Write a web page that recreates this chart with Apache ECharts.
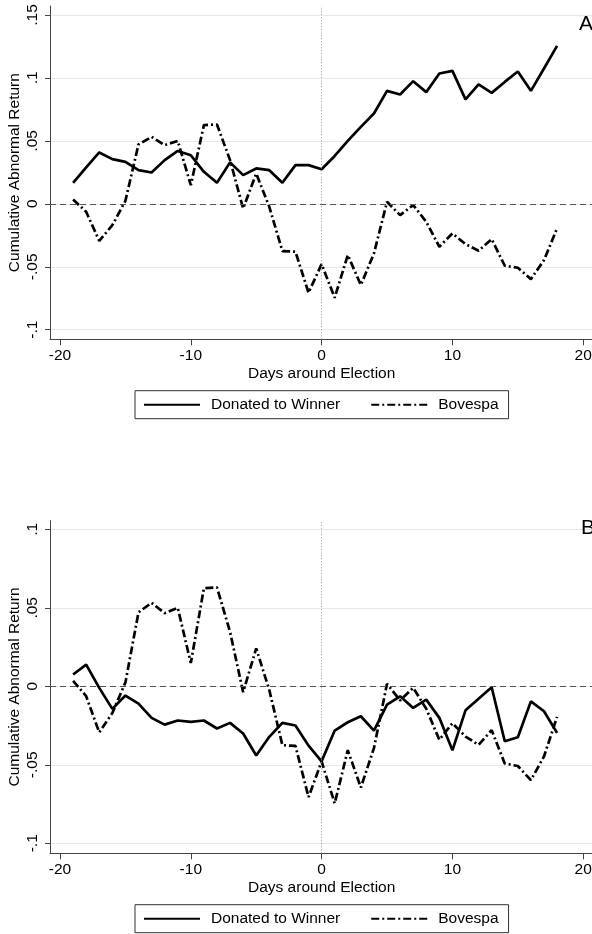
<!DOCTYPE html>
<html>
<head>
<meta charset="utf-8">
<script src="https://cdn.jsdelivr.net/npm/echarts@6/dist/echarts.min.js"></script>
<style>
html,body{margin:0;padding:0;background:#fff;}
#chart{width:592px;height:934px;}
</style>
</head>
<body>
<div id="chart"></div>
<script>
const days = [-19,-18,-17,-16,-15,-14,-13,-12,-11,-10,-9,-8,-7,-6,-5,-4,-3,-2,-1,0,1,2,3,4,5,6,7,8,9,10,11,12,13,14,15,16,17,18];
const donatedA = [0.0167,0.029,0.0408,0.0355,0.0333,0.0267,0.0249,0.0347,0.042,0.0386,0.0254,0.0167,0.0329,0.0228,0.0281,0.0267,0.0167,0.0307,0.0307,0.0275,0.038,0.05,0.0611,0.0717,0.0897,0.0868,0.0974,0.0887,0.1035,0.1056,0.0829,0.0948,0.0881,0.0968,0.1051,0.0897,0.1075,0.1254];
const bovespa = [0.0035,-0.0063,-0.0294,-0.017,0.0024,0.0471,0.0532,0.0466,0.05,0.0148,0.0625,0.063,0.0347,-0.0037,0.0241,-0.0024,-0.0375,-0.038,-0.0706,-0.0479,-0.0746,-0.0407,-0.0645,-0.0394,0.0016,-0.009,-0.001,-0.0143,-0.0341,-0.0235,-0.032,-0.0373,-0.028,-0.0492,-0.0508,-0.0598,-0.0447,-0.0195];
const donatedB = [0.0075,0.0138,-0.001,-0.0144,-0.0059,-0.011,-0.0201,-0.0244,-0.0218,-0.0227,-0.0218,-0.0269,-0.0233,-0.0301,-0.0441,-0.0322,-0.0233,-0.025,-0.0378,-0.0478,-0.0282,-0.0229,-0.0191,-0.0282,-0.0117,-0.0064,-0.0138,-0.0085,-0.0201,-0.0408,-0.0153,-0.008,-0.0006,-0.035,-0.0325,-0.0096,-0.0159,-0.0297];

const xTicks = [-20,-10,0,10,20];
const xTickLabels = ['-20','-10','0','10','20'];
const yTicksA = [-0.1,-0.05,0,0.05,0.1,0.15];
const yTickLabelsA = ['-.1','-.05','0','.05','.1','.15'];
const yTicksB = [-0.1,-0.05,0,0.05,0.1];
const yTickLabelsB = ['-.1','-.05','0','.05','.1'];

const seriesNames = ['Donated to Winner','Bovespa'];
const panelLabels = ['A','B'];
const xTitle = 'Days around Election';
const yTitle = 'Cumulative Abnormal Return';

const FONT = '"Liberation Sans", Arial, Helvetica, sans-serif';
const FS = 15.5;

function lookup(ticks, labels){
  return function(v){
    for (let i=0;i<ticks.length;i++){ if (Math.abs(v-ticks[i])<1e-9) return labels[i]; }
    return '';
  };
}
function pairs(vals){ return days.map((d,i)=>[d, vals[i]]); }

function xAxisCfg(gi){
  return {
    type:'value', gridIndex:gi, min:-20.765, max:20.77,
    name:xTitle, nameLocation:'middle', nameGap:26,
    nameTextStyle:{fontFamily:FONT,fontSize:FS,color:'#000'},
    axisLine:{show:true,onZero:false,lineStyle:{color:'#444',width:1}},
    axisTick:{show:true,inside:false,length:6,customValues:xTicks,lineStyle:{color:'#444'}},
    axisLabel:{show:true,margin:8,customValues:xTicks,formatter:lookup(xTicks,xTickLabels),fontFamily:FONT,fontSize:FS,color:'#000'},
    splitLine:{show:false}
  };
}
function yAxisCfg(gi,min,max,ticks,labels){
  return {
    type:'value', gridIndex:gi, min:min, max:max,
    name:yTitle, nameLocation:'middle', nameRotate:90, nameGap:27, nameMoveOverlap:false,
    nameTextStyle:{fontFamily:FONT,fontSize:FS,color:'#000'},
    axisLine:{show:true,onZero:false,lineStyle:{color:'#444',width:1}},
    axisTick:{show:true,inside:false,length:5,customValues:ticks,lineStyle:{color:'#444'}},
    axisLabel:{show:true,rotate:90,margin:9,customValues:ticks,formatter:lookup(ticks,labels),fontFamily:FONT,fontSize:FS,color:'#000'},
    splitLine:{show:true,lineStyle:{color:'#e8e8e8',width:1}}
  };
}
function panelSeries(gi, donated){
  return [
    {
      name:'ref'+gi, type:'line', xAxisIndex:gi, yAxisIndex:gi, data:[], silent:true,
      markLine:{
        silent:true, symbol:['none','none'], label:{show:false},
        data:[
          {yAxis:0, lineStyle:{type:[6,4],color:'#555',width:1}},
          {xAxis:0, lineStyle:{type:[1,2],color:'#999',width:1}}
        ]
      }
    },
    {
      name:seriesNames[0], type:'line', xAxisIndex:gi, yAxisIndex:gi,
      data:pairs(donated), symbol:'none', showSymbol:false,
      lineStyle:{color:'#000',width:2.7,type:'solid'}, itemStyle:{color:'#000'}
    },
    {
      name:seriesNames[1], type:'line', xAxisIndex:gi, yAxisIndex:gi,
      data:pairs(bovespa), symbol:'none', showSymbol:false,
      lineStyle:{color:'#000',width:2.7,type:[8,3,2,3]}, itemStyle:{color:'#000'}
    }
  ];
}
function legendCfg(top){
  return {
    data:seriesNames, left:135, top:top, orient:'horizontal',
    itemWidth:56, itemHeight:14, itemGap:30,
    padding:[6,10,6,8],
    borderColor:'#333', borderWidth:1, borderRadius:0,
    selectedMode:false,
    itemStyle:{color:'rgba(0,0,0,0)', borderWidth:0, opacity:0},
    textStyle:{fontFamily:FONT,fontSize:FS,color:'#000',padding:[0,0,0,6]}
  };
}

const chart = echarts.init(document.getElementById('chart'), null, {renderer:'canvas'});
chart.setOption({
  backgroundColor:'#fff',
  animation:false,
  title:[
    {text:panelLabels[0], left:579, top:14, padding:0, textStyle:{fontFamily:FONT,fontSize:21,fontWeight:'normal',color:'#000'}},
    {text:panelLabels[1], left:581, top:518, padding:0, textStyle:{fontFamily:FONT,fontSize:21,fontWeight:'normal',color:'#000'}}
  ],
  grid:[
    {left:50, top:6, width:543.3, height:333.3, containLabel:false, outerBoundsMode:'none'},
    {left:50, top:520.7, width:543.3, height:332.6, containLabel:false, outerBoundsMode:'none'}
  ],
  xAxis:[xAxisCfg(0), xAxisCfg(1)],
  yAxis:[
    yAxisCfg(0,-0.1076,0.1571,yTicksA,yTickLabelsA),
    yAxisCfg(1,-0.1064,0.1055,yTicksB,yTickLabelsB)
  ],
  legend:[legendCfg(390.7), legendCfg(904.7)],
  series:[].concat(panelSeries(0,donatedA), panelSeries(1,donatedB))
});
</script>
</body>
</html>
